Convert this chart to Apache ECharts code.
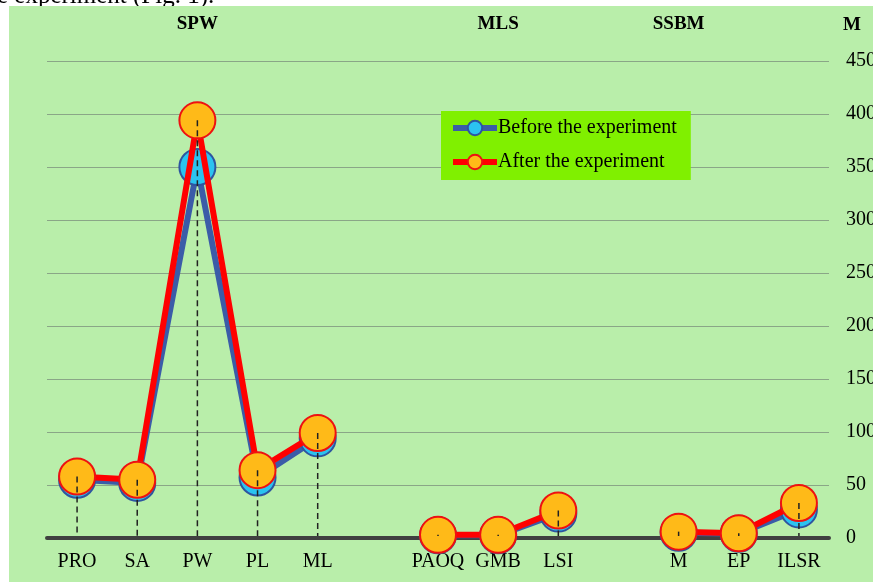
<!DOCTYPE html>
<html>
<head>
<meta charset="utf-8">
<script src="https://cdn.jsdelivr.net/npm/echarts@6/dist/echarts.min.js"></script>
<style>
  html, body { margin: 0; padding: 0; background: #fff; }
  #chart { width: 873px; height: 582px; }
</style>
</head>
<body>
<div id="chart"></div>
<script>
// categories (empty strings are the gaps between groups)
var categories = ['PRO', 'SA', 'PW', 'PL', 'ML', '', 'PAOQ', 'GMB', 'LSI', '', 'M', 'EP', 'ILSR'];
var groupLabels = ['', '', 'SPW', '', '', '', '', 'MLS', '', '', 'SSBM', '', ''];
var before = [55, 52, 350, 57, 94, null, 2.5, 2.5, 23, null, 5, 4, 27];
var after = [58, 55, 394, 64, 99, null, 3, 3, 26, null, 6, 4.5, 33];
var yTicks = { min: 0, max: 450, interval: 50 };

var serif = 'Liberation Serif';

// drop lines from the highest marker down to the axis
var dropData = [];
for (var i = 0; i < categories.length; i++) {
    if (before[i] == null && after[i] == null) continue;
    dropData.push([i, Math.max(before[i] || 0, after[i] || 0)]);
}

var mychart = echarts.init(document.getElementById('chart'));
var option = {
    backgroundColor: '#ffffff',
    animation: false,
    graphic: [
        {
            type: 'text',
            left: -3,
            top: -16,
            style: {
                text: 'e experiment (Fig. 1).',
                font: '25px "' + serif + '"',
                fill: '#000'
            },
            z: -20
        },
        {
            type: 'rect',
            shape: { x: 9, y: 6, width: 870, height: 580 },
            style: { fill: '#b9eeaa' },
            z: -10
        },
        {
            type: 'text',
            x: 852,
            y: 25,
            style: {
                text: 'M',
                font: 'bold 19px "' + serif + '"',
                fill: '#000',
                align: 'center',
                verticalAlign: 'middle'
            }
        }
    ],
    legend: {
        data: ['Before the experiment', 'After the experiment'],
        orient: 'vertical',
        left: 441,
        top: 111,
        padding: [7, 14, 8, 9],
        backgroundColor: '#80f000',
        itemWidth: 44,
        itemHeight: 18,
        itemGap: 14,
        lineStyle: { width: 6 },
        textStyle: {
            fontFamily: serif,
            fontSize: 20,
            color: '#000',
            padding: [0, 0, 0, -4]
        }
    },
    grid: {
        left: 47,
        right: 44,
        top: 61,
        bottom: 44,
        outerBoundsMode: 'none'
    },
    xAxis: [
        {
            type: 'category',
            data: categories,
            axisLine: { lineStyle: { color: '#404040', width: 4 } },
            axisTick: { show: false },
            axisLabel: {
                interval: 0,
                margin: 14,
                fontFamily: serif,
                fontSize: 20,
                color: '#000'
            }
        },
        {
            type: 'category',
            position: 'top',
            data: groupLabels,
            axisLine: { show: false },
            axisTick: { show: false },
            axisLabel: {
                interval: 0,
                margin: 27,
                fontFamily: serif,
                fontSize: 19,
                fontWeight: 'bold',
                color: '#000'
            }
        }
    ],
    yAxis: {
        type: 'value',
        position: 'right',
        min: yTicks.min,
        max: yTicks.max,
        interval: yTicks.interval,
        axisLine: { show: false },
        axisTick: { show: false },
        axisLabel: {
            margin: 17,
            fontFamily: serif,
            fontSize: 20,
            color: '#000'
        },
        splitLine: { lineStyle: { color: '#8aa687', width: 1 } }
    },
    series: [
        {
            name: 'Before the experiment',
            type: 'line',
            data: before,
            connectNulls: false,
            symbol: 'circle',
            symbolSize: 36,
            lineStyle: { color: '#3b5ca8', width: 6 },
            itemStyle: { color: '#2bc3f0', borderColor: '#2e55a0', borderWidth: 2 },
            z: 2
        },
        {
            name: 'After the experiment',
            type: 'line',
            data: after,
            connectNulls: false,
            symbol: 'circle',
            symbolSize: 36,
            lineStyle: { color: '#ff0000', width: 6 },
            itemStyle: { color: '#ffba18', borderColor: '#ee1111', borderWidth: 2 },
            z: 3
        },
        {
            type: 'custom',
            data: dropData,
            z: 10,
            silent: true,
            renderItem: function (params, api) {
                var top = api.coord([api.value(0), api.value(1)]);
                var base = api.coord([api.value(0), 0]);
                return {
                    type: 'line',
                    shape: { x1: top[0], y1: top[1], x2: base[0], y2: base[1] - 2 },
                    style: { stroke: '#222', lineWidth: 1.5, lineDash: [6, 4] }
                };
            }
        }
    ]
};
mychart.setOption(option);
</script>
</body>
</html>
